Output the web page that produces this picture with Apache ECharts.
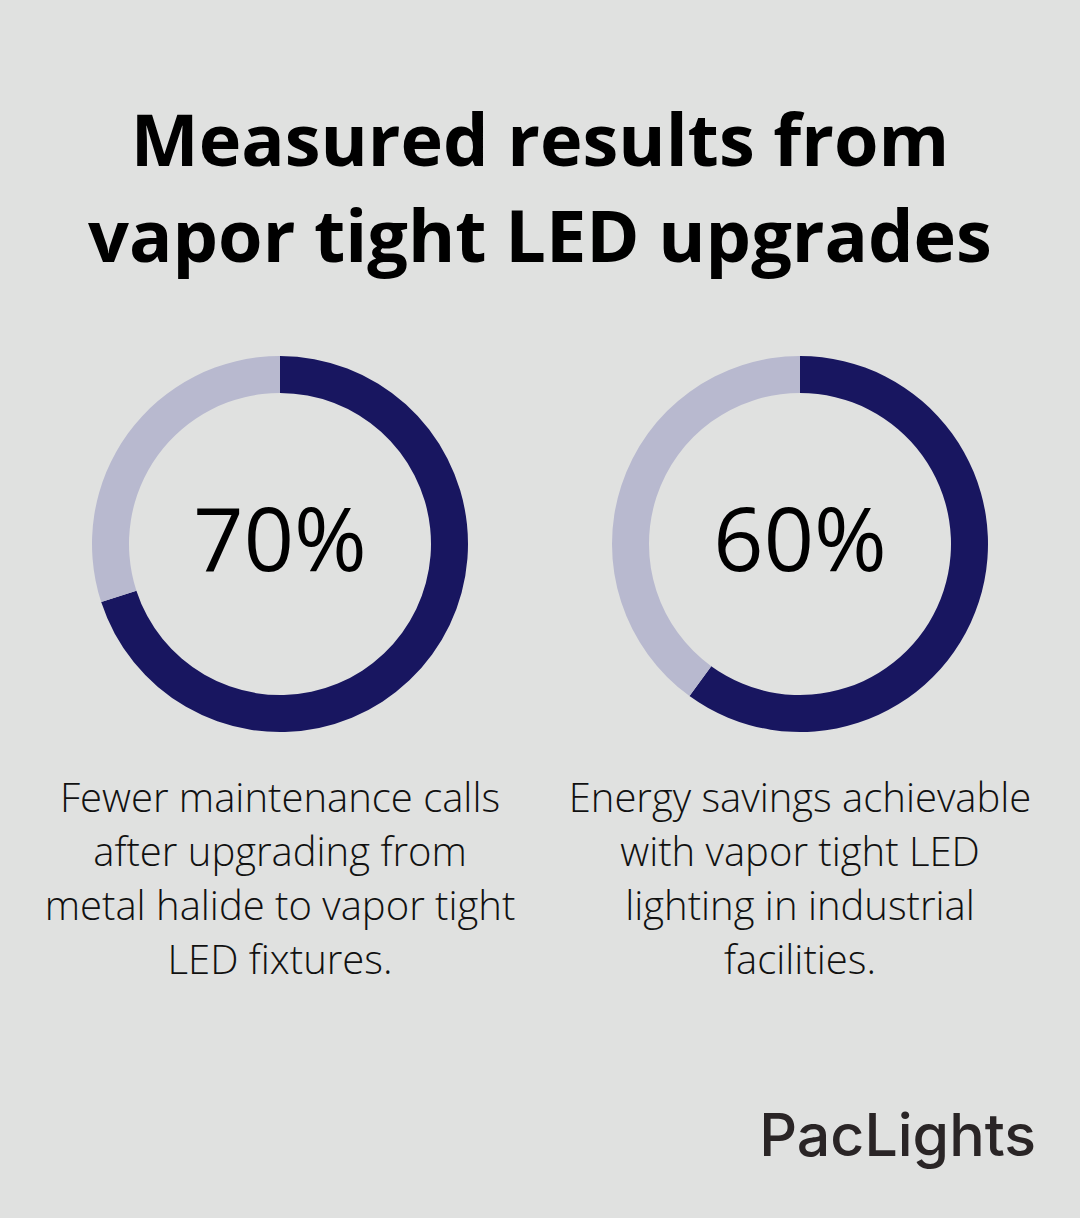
<!DOCTYPE html>
<html>
<head>
<meta charset="utf-8">
<script src="https://cdn.jsdelivr.net/npm/echarts@6/dist/echarts.min.js"></script>
<style>
  html, body { margin: 0; padding: 0; background: #e0e1e0; }
  #chart { width: 1080px; height: 1218px; }
</style>
</head>
<body>
<div id="chart"></div>
<script>
// chart data
const titleLines = ['Measured results from', 'vapor tight LED upgrades'];
const percents = [70, 60];
const descriptions = [
  ['Fewer maintenance calls', 'after upgrading from', 'metal halide to vapor tight', 'LED fixtures.'],
  ['Energy savings achievable', 'with vapor tight LED', 'lighting in industrial', 'facilities.']
];
const brand = 'PacLights';

const centersX = [280, 800];
const centerY = 544;
const darkColor = '#181660';
const lightColor = '#b8b9cf';

const chart = echarts.init(document.getElementById('chart'), null, { renderer: 'svg' });

const series = percents.map((p, i) => ({
  type: 'pie',
  center: [centersX[i], centerY],
  radius: [151, 188],
  startAngle: 90,
  clockwise: true,
  silent: true,
  animation: false,
  label: { show: false },
  labelLine: { show: false },
  data: [
    { value: p, itemStyle: { color: darkColor } },
    { value: 100 - p, itemStyle: { color: lightColor } }
  ]
}));

const graphics = [];
// big numbers in the middle of each ring
percents.forEach((p, i) => {
  graphics.push({
    type: 'text',
    x: centersX[i],
    y: centerY - 7,
    style: {
      text: p + '%',
      fill: '#000',
      font: '400 88px "Open Sans"',
      textAlign: 'center',
      textVerticalAlign: 'middle'
    }
  });
  // description lines
  descriptions[i].forEach((line, j) => {
    graphics.push({
      type: 'text',
      x: centersX[i],
      y: 796 + j * 54,
      style: {
        text: line,
        fill: '#111',
        font: '300 40px "Open Sans"',
        textAlign: 'center',
        textVerticalAlign: 'middle'
      }
    });
  });
});

titleLines.forEach((line, j) => {
  graphics.push({
    type: 'text',
    x: 540,
    y: 138 + j * 96,
    style: {
      text: line,
      fill: '#000',
      font: '700 72px "Open Sans"',
      textAlign: 'center',
      textVerticalAlign: 'middle'
    }
  });
});

graphics.push({
  type: 'text',
  x: 1036,
  y: 1134,
  style: {
    text: brand,
    fill: '#2a2526',
    font: '500 59px "Inter"',
    textAlign: 'right',
    textVerticalAlign: 'middle'
  }
});

chart.setOption({
  backgroundColor: '#e0e1e0',
  animation: false,
  series: series,
  graphic: graphics
});
</script>
</body>
</html>
